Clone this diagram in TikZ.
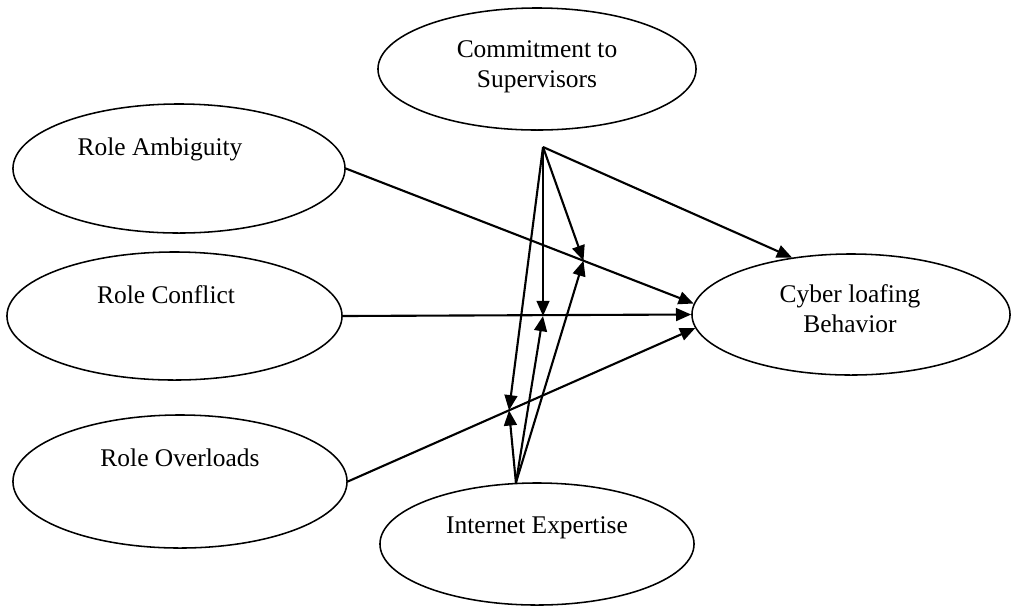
\documentclass[tikz,border=0pt]{standalone}
\usepackage{fontspec}
\setmainfont{Liberation Serif}
\usetikzlibrary{shapes.geometric,arrows.meta,calc}
\begin{document}
\begin{tikzpicture}[x=0.025cm,y=-0.025cm,
  oval/.style={ellipse, draw, line width=1.1pt, inner sep=0pt},
  lbl/.style={font=\fontsize{18.1}{21.3}\selectfont, anchor=base, inner sep=0pt, align=center},
  arr/.style={line width=1.5pt, -{Triangle[length=0.38cm,width=0.32cm]}}]
\useasboundingbox (0,0) rectangle (1011,608);
% ellipses
\node[oval, minimum width=8.3cm,  minimum height=3.225cm] (ra) at (179,168.5) {};
\node[oval, minimum width=8.375cm, minimum height=3.2cm]  (rc) at (174.5,316) {};
\node[oval, minimum width=8.35cm, minimum height=3.325cm] (ro) at (180,481.5) {};
\node[oval, minimum width=7.95cm, minimum height=3.05cm]  (cs) at (537,69) {};
\node[oval, minimum width=7.85cm, minimum height=3.05cm]  (ie) at (537,544) {};
\node[oval, minimum width=7.95cm, minimum height=3.025cm] (cy) at (851,314.5) {};
% texts
\node[lbl] (ra-t) at ($(ra)+(-19,-13.5)$) {Role Ambiguity};
\node[lbl] (rc-t) at ($(rc)+(-8.5,-13)$) {Role Conflict};
\node[lbl] (ro-t) at ($(ro)+(0,-15.5)$) {Role Overloads};
\node[lbl] (ie-t) at ($(ie)+(0,-11)$) {Internet Expertise};
\node[lbl] (cs-t) at ($(cs)+(0,18)$) {Commitment to\\Supervisors};
\node[lbl] (cy-t) at ($(cy)+(-1,17.5)$) {Cyber loafing\\Behavior};
% moderator sources and junctions
\coordinate (s) at (543,147);
\coordinate (t) at (ie.109);
\coordinate (j1) at ($(ra.east)!0.683!(cy.176)$);
\coordinate (j2) at (s |- rc.east);
\coordinate (j3) at ($(ro.east)!0.464!(cy.185)$);
% main paths
\draw[arr] (ra.east) -- (cy.176);
\draw[arr] (rc.east) -- (cy.west);
\draw[arr] (ro.east) -- (cy.185);
% moderator arrows
\draw[arr] (s) -- (cy.136);
\draw[arr] (s) -- (j1);
\draw[arr] (s) -- (j2);
\draw[arr] (s) -- (j3);
\draw[arr] (t) -- (j1);
\draw[arr] (t) -- (j2);
\draw[arr] (t) -- (j3);
\end{tikzpicture}
\end{document}
